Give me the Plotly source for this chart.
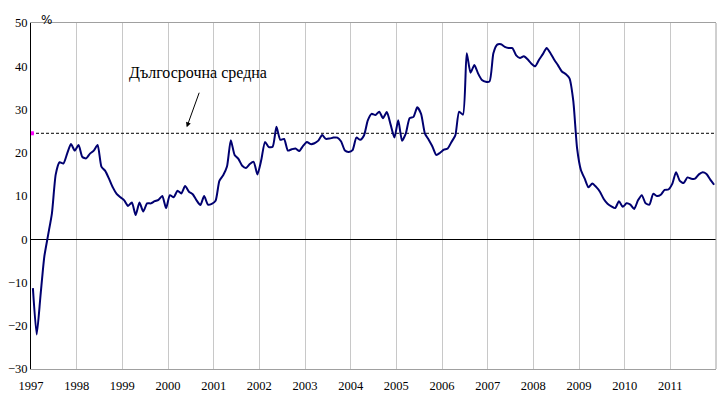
import plotly.graph_objects as go

start_year = 1997
values = [
    # 1997
    -11.3, -22.0, -13.0, -4.0, 1.0, 6.0, 15.0, 17.8, 17.5, 19.8, 22.0, 20.5,
    # 1998
    21.8, 19.0, 18.7, 19.8, 20.5, 21.8, 16.8, 15.8, 14.0, 12.0, 10.5, 9.7,
    # 1999
    9.0, 7.7, 8.5, 5.6, 8.5, 6.4, 8.3, 8.3, 8.8, 9.1, 10.0, 7.2,
    # 2000
    10.2, 9.7, 11.2, 10.6, 12.3, 11.0, 10.4, 9.0, 7.9, 10.0, 8.0, 8.2,
    # 2001
    8.9, 13.5, 14.8, 16.8, 22.9, 19.5, 18.6, 17.0, 16.5, 17.4, 17.9, 15.0,
    # 2002
    18.3, 22.5, 21.3, 21.4, 26.0, 23.0, 23.2, 20.5, 20.8, 21.0, 20.4, 21.6,
    # 2003
    22.5, 22.0, 22.2, 22.8, 24.1, 23.2, 23.3, 23.5, 23.5, 22.6, 20.5, 20.2,
    # 2004
    20.6, 23.5, 23.0, 24.0, 27.5, 29.0, 28.7, 29.5, 28.0, 29.4, 26.5, 23.5,
    # 2005
    27.5, 22.8, 24.5, 28.0, 28.3, 30.5, 29.0, 24.5, 23.0, 21.4, 19.5, 20.0,
    # 2006
    20.7, 21.0, 22.5, 24.0, 29.5, 28.8, 43.0, 38.5, 40.3, 38.3, 36.8, 36.4,
    # 2007
    36.5, 43.0, 45.0, 45.1, 44.5, 44.2, 44.2, 42.5, 41.9, 42.3, 41.6, 40.6,
    # 2008
    40.0, 41.5, 42.8, 44.2, 43.0, 41.5, 40.2, 38.8, 38.2, 37.2, 32.0, 21.0,
    # 2009
    16.0, 14.0, 12.0, 12.9, 12.1, 11.0, 9.3, 8.2, 7.6, 7.2, 8.8, 7.5,
    # 2010
    8.3, 8.0, 7.0, 9.0, 10.2, 8.3, 8.0, 10.5, 10.0, 10.3, 11.4, 11.5,
    # 2011
    12.8, 15.5, 13.5, 13.0, 14.3, 14.0, 14.0, 15.0, 15.5, 15.1, 13.8, 12.6,
]
long_term_avg = 24.5
year_ticks = list(range(1997, 2012))
y_ticks = list(range(-30, 51, 10))
avg_label = "Дългосрочна средна"
unit_label = "%"

dates = [start_year + (i + 0.5) / 12 for i in range(len(values))]

serif = "Liberation Serif, Times New Roman, serif"

fig = go.Figure()
fig.add_trace(go.Scatter(
    x=[start_year, start_year + 15], y=[long_term_avg, long_term_avg],
    mode="lines", line=dict(color="black", width=1, dash="3px,2px"),
    hoverinfo="skip", showlegend=False))
fig.add_trace(go.Scatter(
    x=[start_year + 0.02], y=[long_term_avg], mode="markers",
    marker=dict(color="#ff00ff", size=4, symbol="square"),
    showlegend=False))
fig.add_trace(go.Scatter(
    x=dates, y=values, mode="lines",
    line=dict(color="#000070", width=2, shape="spline", smoothing=0.6),
    showlegend=False))

fig.update_layout(
    width=721, height=398,
    margin=dict(l=31, r=5, t=23, b=29, autoexpand=False),
    paper_bgcolor="white", plot_bgcolor="white",
    font=dict(family=serif, size=12, color="black"),
    xaxis=dict(
        range=[start_year, start_year + 15], automargin=False,
        tickvals=year_ticks, ticktext=[str(y) for y in year_ticks],
        showgrid=True, gridcolor="#c8c8c8", gridwidth=1,
        showline=True, linecolor="#a0a0a0", linewidth=1, mirror=True,
        ticks="", zeroline=False, tickfont=dict(family=serif, size=12.5),
        ticklabelstandoff=5,
    ),
    yaxis=dict(
        range=[-30, 50], tickvals=y_ticks, automargin=False,
        showgrid=False, zeroline=True, zerolinecolor="black", zerolinewidth=1,
        showline=True, linecolor="black", linewidth=1,
        ticks="", tickfont=dict(family=serif, size=12.5),
    ),
    shapes=[dict(type="line", xref="paper", yref="paper", x0=1, x1=1, y0=0, y1=1,
                 line=dict(color="#a0a0a0", width=1))],
    annotations=[
        dict(text=avg_label, x=2000.65, y=38.5, xref="x", yref="y",
             showarrow=False, font=dict(family=serif, size=16, color="black")),
        dict(text="", x=2000.41, y=25.9, xref="x", yref="y",
             showarrow=True, ax=13, ay=-36, arrowhead=2, arrowsize=1,
             arrowwidth=1, arrowcolor="black"),
        dict(text=unit_label, xref="paper", yref="paper", x=0.012, y=1.035,
             showarrow=False, font=dict(family="DejaVu Sans, sans-serif", size=12, color="black")),
    ],
)

fig.write_html(
    "out.html",
    config={"responsive": False, "displayModeBar": False},
    post_script="document.body.style.margin='0';document.body.style.overflow='hidden';",
)
